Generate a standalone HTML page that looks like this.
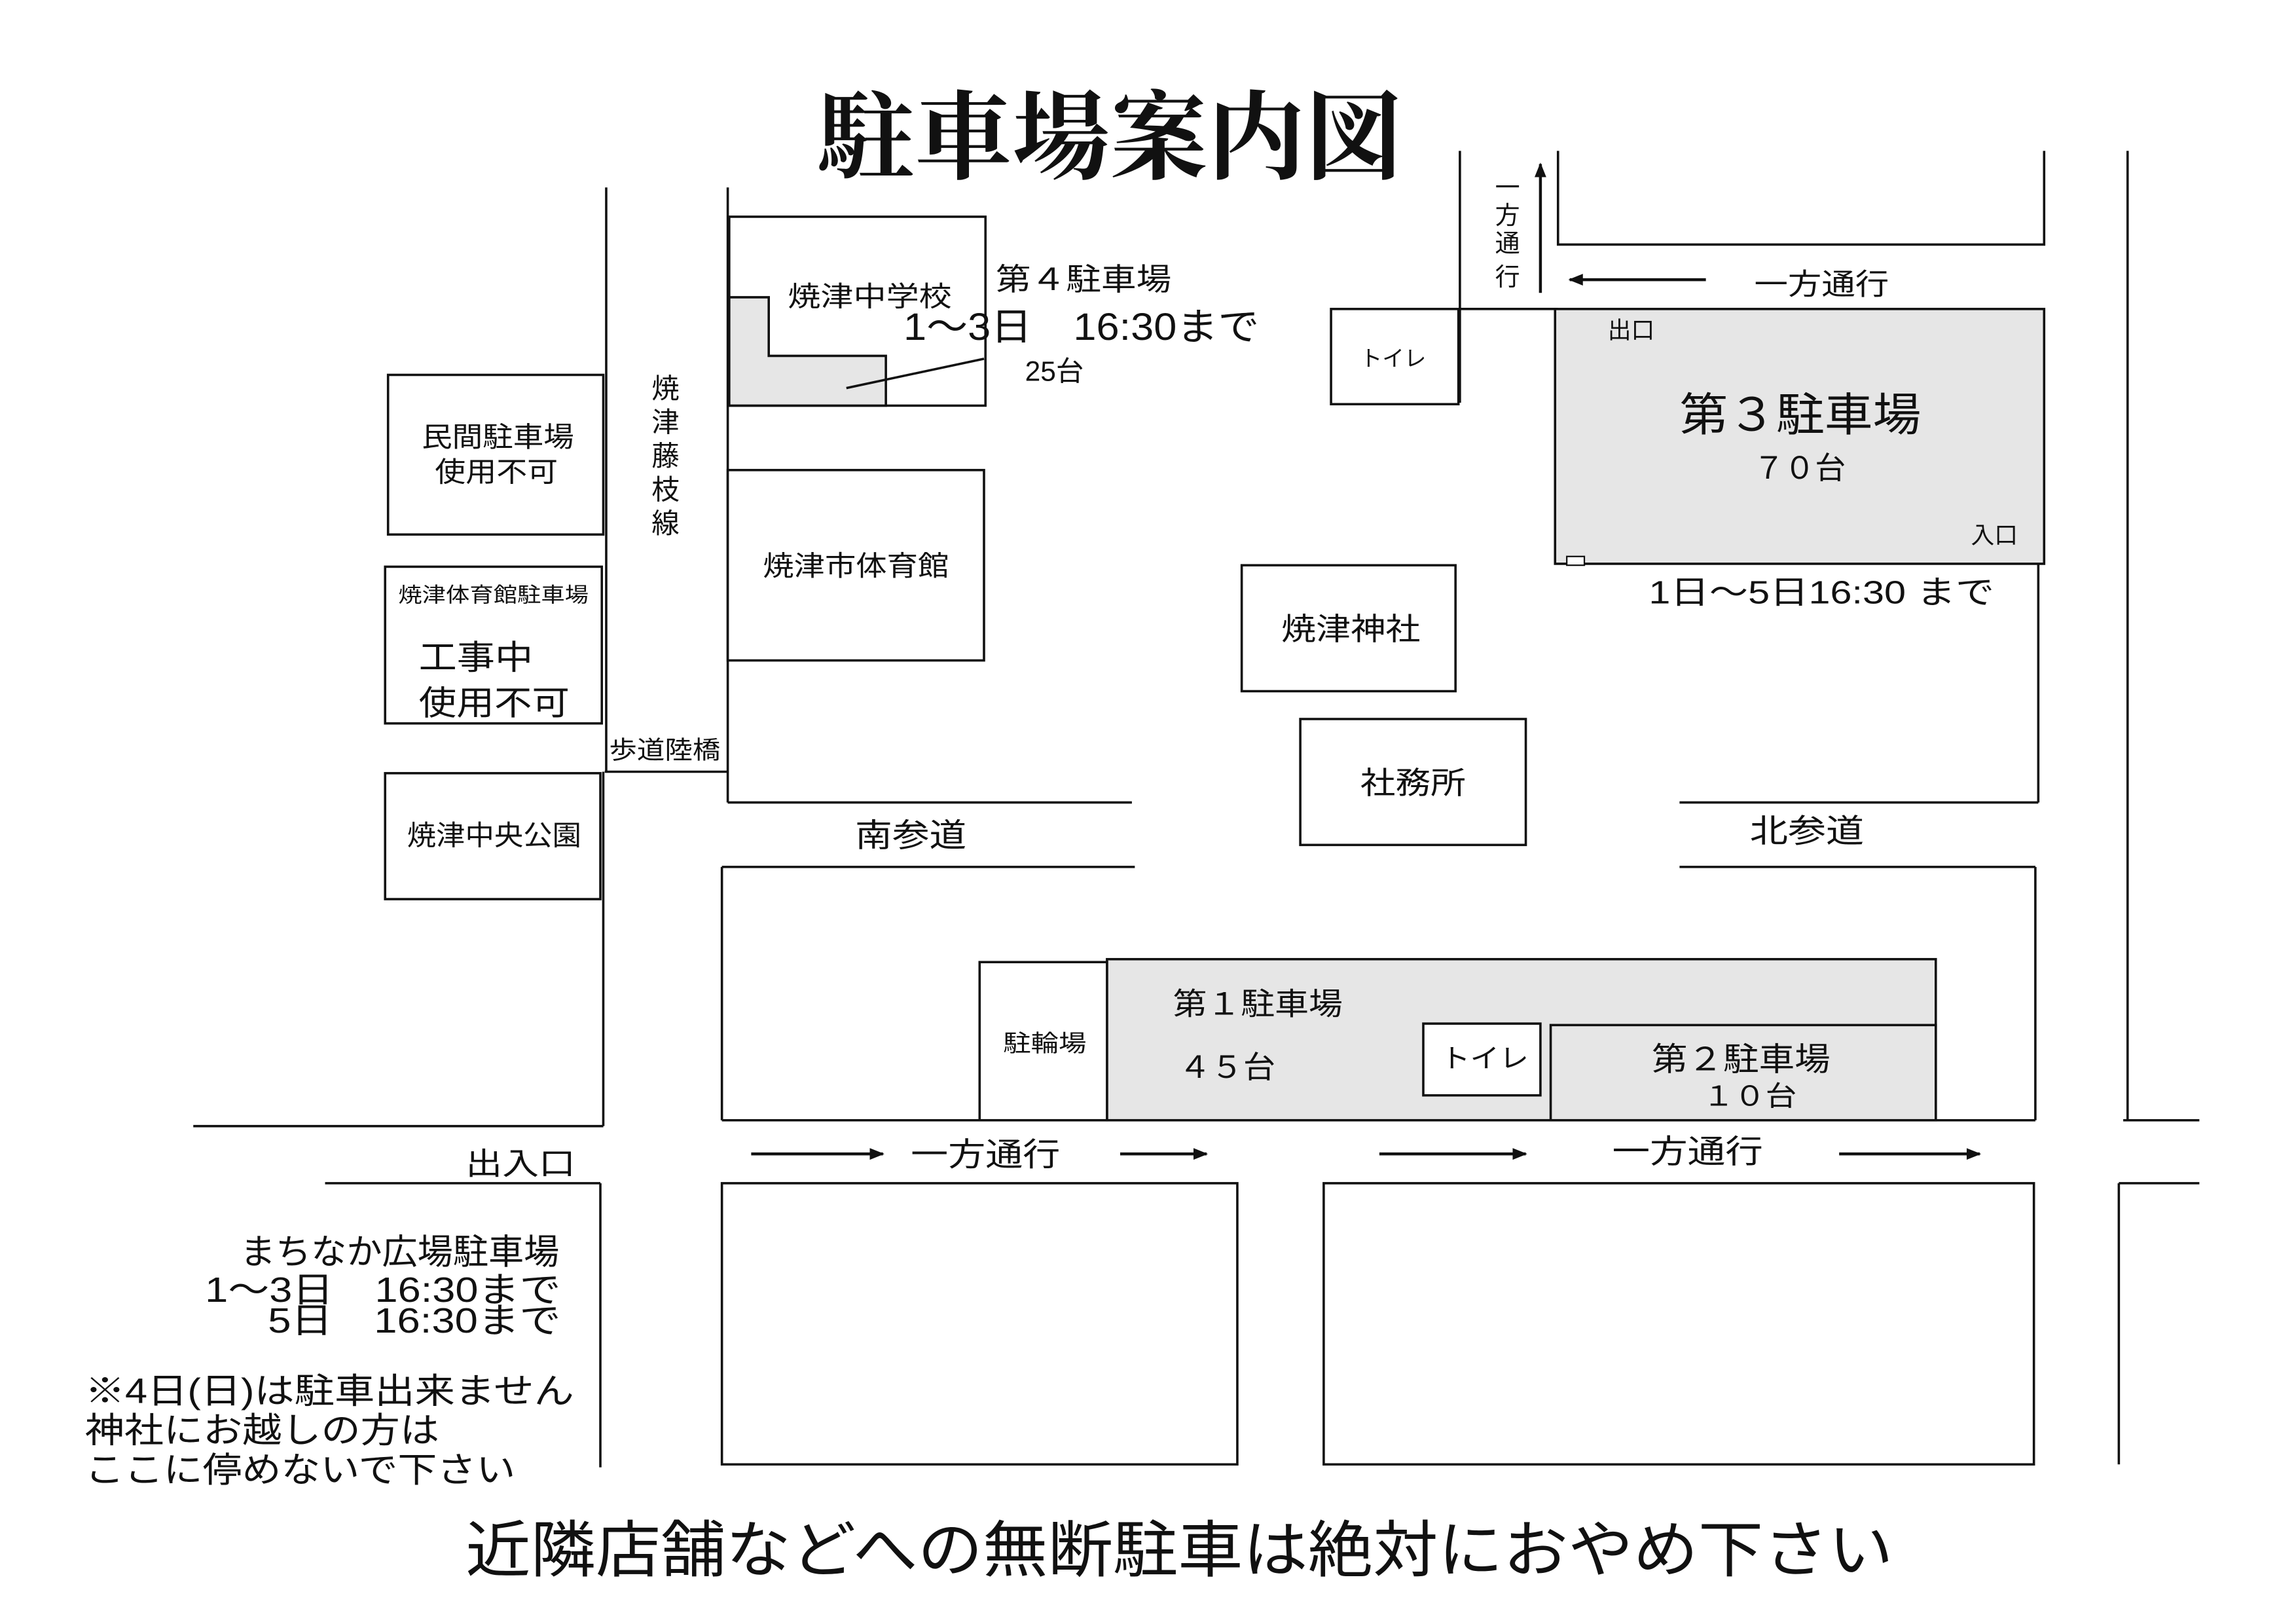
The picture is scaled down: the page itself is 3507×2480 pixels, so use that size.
<!DOCTYPE html>
<html><head><meta charset="utf-8">
<style>
html,body{margin:0;padding:0;background:#fff;}
svg{display:block;}
text{font-family:"Liberation Sans","Noto Sans CJK JP",sans-serif;fill:#111;}
.serif{font-family:"Liberation Serif","Noto Serif CJK SC",serif;font-weight:bold;}
</style></head><body>
<svg width="3507" height="2480" viewBox="0 0 1568 1109" preserveAspectRatio="none" xmlns="http://www.w3.org/2000/svg">
<defs><marker id="ah" markerWidth="10" markerHeight="8" refX="9" refY="4" orient="auto" markerUnits="userSpaceOnUse"><path d="M0,0 L10,4 L0,8 z" fill="#111"/></marker></defs>
<rect width="1568" height="1109" fill="#fff"/>
<text x="558" y="117" font-size="66" class="serif" textLength="400" lengthAdjust="spacingAndGlyphs">駐車場案内図</text>
<g stroke="#111" stroke-width="1.6" fill="none">
<line x1="414" y1="128" x2="414" y2="527"/>
<line x1="412" y1="527" x2="412" y2="769"/>
<line x1="497" y1="128" x2="497" y2="548"/>
<line x1="413" y1="527" x2="497" y2="527"/>
<line x1="497" y1="548" x2="773" y2="548"/>
<line x1="493" y1="592" x2="775" y2="592"/>
<line x1="493" y1="592" x2="493" y2="765"/>
<line x1="132" y1="769" x2="412" y2="769"/>
<line x1="493" y1="765" x2="1390" y2="765"/>
<line x1="1450" y1="765" x2="1502" y2="765"/>
<line x1="222" y1="808" x2="410" y2="808"/>
<line x1="410" y1="808" x2="410" y2="1002"/>
<rect x="493" y="808" width="352" height="192"/>
<rect x="904" y="808" width="485" height="192"/>
<line x1="1447" y1="808" x2="1502" y2="808"/>
<line x1="1447" y1="808" x2="1447" y2="1000"/>
<line x1="1453" y1="103" x2="1453" y2="765"/>
<polyline points="1064,103 1064,167 1396,167 1396,103"/>
<line x1="997" y1="103" x2="997" y2="275"/>
<line x1="997" y1="211" x2="1064" y2="211"/>
<line x1="1392" y1="380" x2="1392" y2="548"/>
<line x1="1147" y1="548" x2="1392" y2="548"/>
<line x1="1147" y1="592" x2="1390" y2="592"/>
<line x1="1390" y1="592" x2="1390" y2="765"/>
</g>
<g stroke="#111" stroke-width="1.6">
<rect x="1062" y="211" width="334" height="174" fill="#e6e6e6"/>
<rect x="909" y="211" width="87" height="65" fill="#fff"/>
<rect x="848" y="386" width="146" height="86" fill="#fff"/>
<rect x="888" y="491" width="154" height="86" fill="#fff"/>
<rect x="498" y="148" width="175" height="129" fill="#fff"/>
<polygon points="498,203 525,203 525,243 605,243 605,277 498,277" fill="#e6e6e6"/>
<line x1="578" y1="265" x2="672" y2="245"/>
<rect x="497" y="321" width="175" height="130" fill="#fff"/>
<rect x="265" y="256" width="147" height="109" fill="#fff"/>
<rect x="263" y="387" width="148" height="107" fill="#fff"/>
<rect x="263" y="528" width="147" height="86" fill="#fff"/>
<rect x="756" y="655" width="566" height="110" fill="#e6e6e6"/>
<rect x="669" y="657" width="87" height="108" fill="#fff"/>
<rect x="1059" y="700" width="263" height="65" fill="#e6e6e6"/>
<rect x="972" y="699" width="80" height="49" fill="#fff"/>
<rect x="1070" y="380" width="12" height="6" fill="#fff" stroke-width="1"/>
</g>
<g stroke="#111" stroke-width="2" marker-end="url(#ah)">
<line x1="1052" y1="200" x2="1052" y2="112"/>
<line x1="1165" y1="191" x2="1072" y2="191"/>
<line x1="513" y1="788" x2="603" y2="788"/>
<line x1="765" y1="788" x2="824" y2="788"/>
<line x1="942" y1="788" x2="1042" y2="788"/>
<line x1="1256" y1="788" x2="1352" y2="788"/>
</g>
<g font-size="19" lengthAdjust="spacingAndGlyphs">
<text x="538" y="209" textLength="112" lengthAdjust="spacingAndGlyphs">焼津中学校</text>
<text x="680" y="198" font-size="21" textLength="120" lengthAdjust="spacingAndGlyphs">第４駐車場</text>
<text x="617" y="232" font-size="26" textLength="243" lengthAdjust="spacingAndGlyphs">1～3日　16:30まで</text>
<text x="700" y="260">25台</text>
<text x="521" y="393" textLength="127" lengthAdjust="spacingAndGlyphs">焼津市体育館</text>
<text x="288" y="305" textLength="104" lengthAdjust="spacingAndGlyphs">民間駐車場</text>
<text x="297" y="329" textLength="84" lengthAdjust="spacingAndGlyphs">使用不可</text>
<text x="272" y="411" font-size="14" textLength="130" lengthAdjust="spacingAndGlyphs">焼津体育館駐車場</text>
<text x="286" y="457" font-size="23" textLength="78" lengthAdjust="spacingAndGlyphs">工事中</text>
<text x="286" y="488" font-size="23" textLength="103" lengthAdjust="spacingAndGlyphs">使用不可</text>
<text x="278" y="577" textLength="119" lengthAdjust="spacingAndGlyphs">焼津中央公園</text>
<text x="416" y="518" font-size="17" textLength="76" lengthAdjust="spacingAndGlyphs">歩道陸橋</text>
<text x="584" y="578" font-size="22" textLength="76" lengthAdjust="spacingAndGlyphs">南参道</text>
<text x="1195" y="575" font-size="22" textLength="78" lengthAdjust="spacingAndGlyphs">北参道</text>
<text x="875" y="437" font-size="21" textLength="95" lengthAdjust="spacingAndGlyphs">焼津神社</text>
<text x="929" y="542" font-size="21" textLength="72" lengthAdjust="spacingAndGlyphs">社務所</text>
<text x="929" y="250" font-size="15">トイレ</text>
<text x="1098" y="231" font-size="16">出口</text>
<text x="1346" y="371" font-size="16">入口</text>
<text x="1147" y="294" font-size="31" textLength="165" lengthAdjust="spacingAndGlyphs">第３駐車場</text>
<text x="1229" y="327" font-size="21" text-anchor="middle">７０台</text>
<text x="1126" y="412" font-size="22" textLength="236" lengthAdjust="spacingAndGlyphs">1日～5日16:30 まで</text>
<text x="1198" y="201" font-size="20" textLength="92" lengthAdjust="spacingAndGlyphs">一方通行</text>
<g font-size="17"><text x="1021" y="134">一</text><text x="1021" y="153">方</text><text x="1021" y="172">通</text><text x="1021" y="195">行</text></g>
<g font-size="19"><text x="445" y="272">焼</text><text x="445" y="295">津</text><text x="445" y="318">藤</text><text x="445" y="341">枝</text><text x="445" y="364">線</text></g>
<text x="685" y="718" font-size="16" textLength="57" lengthAdjust="spacingAndGlyphs">駐輪場</text>
<text x="801" y="693" font-size="21" textLength="116" lengthAdjust="spacingAndGlyphs">第１駐車場</text>
<text x="805" y="736" font-size="21" textLength="66" lengthAdjust="spacingAndGlyphs">４５台</text>
<text x="984" y="729" font-size="18" textLength="60" lengthAdjust="spacingAndGlyphs">トイレ</text>
<text x="1128" y="731" font-size="22" textLength="122" lengthAdjust="spacingAndGlyphs">第２駐車場</text>
<text x="1163" y="755" font-size="19" textLength="64" lengthAdjust="spacingAndGlyphs">１０台</text>
<text x="622" y="796" font-size="22" textLength="102" lengthAdjust="spacingAndGlyphs">一方通行</text>
<text x="1101" y="794" font-size="22" textLength="103" lengthAdjust="spacingAndGlyphs">一方通行</text>
<text x="318" y="802" font-size="21" textLength="75" lengthAdjust="spacingAndGlyphs">出入口</text>
<text x="164" y="863" font-size="24" textLength="218" lengthAdjust="spacingAndGlyphs">まちなか広場駐車場</text>
<text x="140" y="889" font-size="24" textLength="243" lengthAdjust="spacingAndGlyphs">1～3日　16:30まで</text>
<text x="183" y="910" font-size="24" textLength="200" lengthAdjust="spacingAndGlyphs">5日　16:30まで</text>
<text x="58" y="958" font-size="24" textLength="334" lengthAdjust="spacingAndGlyphs">※4日(日)は駐車出来ません</text>
<text x="58" y="985" font-size="24" textLength="242" lengthAdjust="spacingAndGlyphs">神社にお越しの方は</text>
<text x="58" y="1012" font-size="24" textLength="294" lengthAdjust="spacingAndGlyphs">ここに停めないで下さい</text>
<text x="318" y="1073" font-size="42" textLength="975" lengthAdjust="spacingAndGlyphs">近隣店舗などへの無断駐車は絶対におやめ下さい</text>
</g>
</svg>
</body></html>
